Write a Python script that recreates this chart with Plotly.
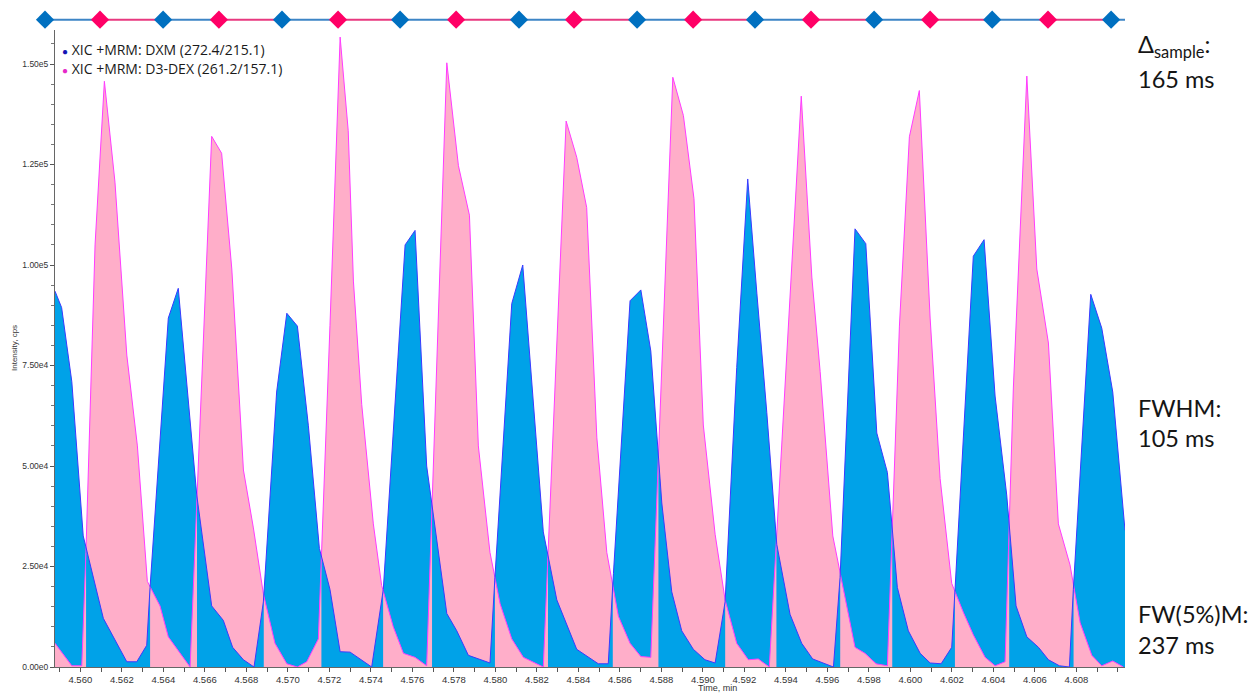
import numpy as np
import plotly.graph_objects as go

# ---------------- data ----------------
dxm_time = [4.55878, 4.55910, 4.55959, 4.56014, 4.56111, 4.56224, 4.56272, 4.56320, 4.56336, 4.56424,
            4.56472, 4.56561, 4.56633, 4.56689, 4.56734, 4.56786, 4.56837, 4.56882, 4.56946, 4.56995,
            4.57046, 4.57099, 4.57152, 4.57203, 4.57252, 4.57300, 4.57404, 4.57460, 4.57565, 4.57613,
            4.57669, 4.57766, 4.57814, 4.57870, 4.57974, 4.57998, 4.58079, 4.58132, 4.58231, 4.58296,
            4.58392, 4.58496, 4.58544, 4.58569, 4.58649, 4.58701, 4.58749, 4.58802, 4.58850, 4.58898,
            4.58954, 4.59010, 4.59059, 4.59107, 4.59163, 4.59216, 4.59260, 4.59308, 4.59356, 4.59420,
            4.59476, 4.59529, 4.59629, 4.59661, 4.59706, 4.59733, 4.59785, 4.59838, 4.59889, 4.59937,
            4.59990, 4.60047, 4.60095, 4.60148, 4.60199, 4.60215, 4.60303, 4.60355, 4.60408, 4.60464,
            4.60509, 4.60561, 4.60617, 4.60665, 4.60718, 4.60766, 4.60785, 4.60869, 4.60922, 4.60975,
            4.61034]
dxm_int = [93500, 89400, 71000, 32600, 12100, 1300, 1300, 5400, 19800, 86800,
           94200, 42800, 15200, 11600, 4900, 1800, 0, 16200, 68400, 88000,
           84800, 60000, 29500, 19300, 3800, 3700, 0, 19300, 105000, 108600,
           50000, 13300, 9000, 2900, 1000, 22300, 90400, 100000, 33600, 16700,
           4400, 800, 800, 23300, 91100, 93800, 78600, 40800, 18700, 9000,
           4400, 1800, 1000, 16200, 74500, 121400, 93000, 63300, 30500, 13100,
           5900, 2000, 0, 22300, 76600, 109000, 105300, 58200, 48400, 19800,
           9000, 3400, 1000, 800, 4900, 19300, 102200, 106300, 67400, 42800,
           15200, 7500, 4900, 1800, 300, 0, 19300, 92700, 84300, 68400,
           34000]

d3_time = [4.55878, 4.55959, 4.56007, 4.56027, 4.56071, 4.56116, 4.56167, 4.56224, 4.56275, 4.56323,
           4.56384, 4.56424, 4.56529, 4.56633, 4.56681, 4.56730, 4.56786, 4.56834, 4.56882, 4.56938,
           4.56995, 4.57046, 4.57091, 4.57147, 4.57203, 4.57252, 4.57291, 4.57316, 4.57356, 4.57412,
           4.57452, 4.57508, 4.57557, 4.57613, 4.57669, 4.57766, 4.57822, 4.57875, 4.57918, 4.57974,
           4.58023, 4.58079, 4.58135, 4.58231, 4.58341, 4.58392, 4.58440, 4.58489, 4.58537, 4.58593,
           4.58649, 4.58701, 4.58749, 4.58855, 4.58906, 4.58957, 4.59002, 4.59059, 4.59107, 4.59163,
           4.59219, 4.59267, 4.59320, 4.59474, 4.59525, 4.59565, 4.59626, 4.59661, 4.59733, 4.59781,
           4.59834, 4.59889, 4.59947, 4.59995, 4.60043, 4.60095, 4.60143, 4.60199, 4.60255, 4.60303,
           4.60360, 4.60408, 4.60456, 4.60496, 4.60561, 4.60609, 4.60665, 4.60713, 4.60769, 4.60818,
           4.60874, 4.60922, 4.60975, 4.61026]
d3_int = [5900, 300, 300, 28500, 105000, 145700, 120600, 77600, 55000, 21300,
          15200, 7500, 0, 132000, 127800, 99000, 49000, 34600, 18200, 5900,
          800, 0, 1300, 7000, 85000, 156700, 133400, 96000, 65300, 35600,
          20300, 10000, 3400, 2400, 300, 150300, 124700, 112400, 55000, 28500,
          15700, 7000, 2400, 0, 135800, 126800, 114300, 57000, 28500, 12600,
          5900, 2600, 2400, 146700, 137200, 116500, 60200, 33000, 16700, 5900,
          1800, 2000, 0, 142000, 97000, 73500, 32600, 23300, 4900, 3400,
          800, 300, 84800, 131900, 143400, 86800, 46900, 20800, 13600, 8000,
          2400, 300, 1300, 69400, 147000, 99000, 80600, 35600, 25400, 11000,
          2900, 300, 1500, 0]

# acquisition (sample) times shown on the top strip, alternating channels
sample_time = [4.55830, 4.56095, 4.56399, 4.56668, 4.56972, 4.57242, 4.57541, 4.57811, 4.58114, 4.58379,
               4.58683, 4.58953, 4.59251, 4.59521, 4.59825, 4.60095, 4.60394, 4.60663, 4.60967]
sample_channel = ["DXM", "D3", "DXM", "D3", "DXM", "D3", "DXM", "D3", "DXM", "D3",
                  "DXM", "D3", "DXM", "D3", "DXM", "D3", "DXM", "D3", "DXM"]

x_tick_vals = [4.560, 4.562, 4.564, 4.566, 4.568, 4.570, 4.572, 4.574, 4.576, 4.578, 4.580, 4.582, 4.584,
               4.586, 4.588, 4.590, 4.592, 4.594, 4.596, 4.598, 4.600, 4.602, 4.604, 4.606, 4.608]
x_tick_text = ["%.3f" % v for v in x_tick_vals]
y_tick_vals = [0, 25000, 50000, 75000, 100000, 125000, 150000]
y_tick_text = ["0.00e0", "2.50e4", "5.00e4", "7.50e4", "1.00e5", "1.25e5", "1.50e5"]

legend_names = ["XIC +MRM: DXM (272.4/215.1)", "XIC +MRM: D3-DEX (261.2/157.1)"]
right_notes = [("Δ<sub>sample</sub>:", "165 ms"), ("FWHM:", "105 ms"), ("FW(5%)M:", "237 ms")]

# ---------------- styling ----------------
BLUE_FILL = "#00A2E8"
PINK_FILL = "#FFAEC9"
BLUE_LINE = "#3a3aff"
PINK_LINE = "#ff3cff"
STRIP_BLUE = "#0070C0"
STRIP_PINK = "#FF0066"
STRIP_BLUE_LINE = "#3d85c6"
STRIP_PINK_LINE = "#e8387f"

X_MAIN_RANGE = [4.55878, 4.61034]
X_STRIP_RANGE = [4.557962, 4.61034]
Y_MAX = 158460

# lower-on-top rendering of the two overlapping filled traces:
# pink is redrawn above blue wherever the pink trace is the lower one
tb = np.array(dxm_time); vb = np.array(dxm_int, float)
tp = np.array(d3_time); vp = np.array(d3_int, float)
grid = np.union1d(tb, tp)
gb = np.interp(grid, tb, vb); gp = np.interp(grid, tp, vp)
diff = gp - gb
cross = []
for i in range(len(grid) - 1):
    if diff[i] * diff[i + 1] < 0:
        f = diff[i] / (diff[i] - diff[i + 1])
        cross.append(grid[i] + f * (grid[i + 1] - grid[i]))
grid = np.union1d(grid, cross)
gb = np.interp(grid, tb, vb); gp = np.interp(grid, tp, vp)
mask = gp <= gb + 1e-6

poly_x, poly_y = [], []
i = 0
n = len(grid)
while i < n:
    if mask[i]:
        j = i
        while j + 1 < n and mask[j + 1]:
            j += 1
        if j > i:
            xs = [float(v) for v in grid[i:j + 1]]
            ys = [float(v) for v in gp[i:j + 1]]
            poly_x += [xs[0]] + xs + [xs[-1], None]
            poly_y += [0.0] + ys + [0.0, None]
        i = j + 1
    else:
        i += 1

fig = go.Figure()
fig.add_trace(go.Scatter(x=d3_time, y=d3_int, mode="lines", fill="tozeroy", fillcolor=PINK_FILL,
                         line=dict(width=0, color=PINK_FILL), hoverinfo="skip", showlegend=False))
fig.add_trace(go.Scatter(x=dxm_time, y=dxm_int, mode="lines", fill="tozeroy", fillcolor=BLUE_FILL,
                         line=dict(width=0, color=BLUE_FILL), hoverinfo="skip", showlegend=False))
fig.add_trace(go.Scatter(x=poly_x, y=poly_y, mode="lines", fill="toself", fillcolor=PINK_FILL,
                         connectgaps=False, line=dict(width=0, color=PINK_FILL),
                         hoverinfo="skip", showlegend=False))
fig.add_trace(go.Scatter(x=d3_time, y=d3_int, mode="lines", line=dict(width=1, color=PINK_LINE),
                         name=legend_names[1], showlegend=False))
fig.add_trace(go.Scatter(x=dxm_time, y=dxm_int, mode="lines", line=dict(width=1, color=BLUE_LINE),
                         name=legend_names[0], showlegend=False))

# top strip: sample sequence
seg_x = {"DXM": [], "D3": []}
for k, t in enumerate(sample_time):
    nxt = sample_time[k + 1] if k + 1 < len(sample_time) else X_STRIP_RANGE[1]
    seg_x[sample_channel[k]] += [t, nxt, None]
for ch, col in (("DXM", STRIP_BLUE_LINE), ("D3", STRIP_PINK_LINE)):
    fig.add_trace(go.Scatter(x=seg_x[ch], y=[0 if v is not None else None for v in seg_x[ch]],
                             mode="lines", line=dict(width=2, color=col), xaxis="x2", yaxis="y2",
                             hoverinfo="skip", showlegend=False, cliponaxis=False))
for ch, col in (("DXM", STRIP_BLUE), ("D3", STRIP_PINK)):
    xs = [t for t, c in zip(sample_time, sample_channel) if c == ch]
    fig.add_trace(go.Scatter(x=xs, y=[0] * len(xs), mode="markers", xaxis="x2", yaxis="y2",
                             marker=dict(symbol="diamond", size=14, color=col, line=dict(width=0)),
                             hoverinfo="skip", showlegend=False, cliponaxis=False))

L, R, T, B = 38, 127, 10, 26
W, H = 1252, 693
pw = W - L - R
ph = H - T - B
x_dom0 = (55 - L) / pw
y_dom1 = (667 - 30) / ph


def px2paper_x(px):
    return (px - L) / pw


def px2paper_y(py):
    return (H - B - py) / ph


annotations = []
# legend
legend_cols = ["#1414b4", "#e628c8"]
for k, (nm, col) in enumerate(zip(legend_names, legend_cols)):
    annotations.append(dict(xref="paper", yref="paper", x=px2paper_x(60), y=px2paper_y(49 + 19 * k),
                            xanchor="left", yanchor="middle", showarrow=False,
                            text="<span style='color:%s;font-size:10px'>●</span> %s" % (col, nm),
                            font=dict(family="Open Sans", size=14, color="#1a1a1a")))
# right-hand notes
note_y = [(46, 79), (408, 438), (614, 645)]
for (l1, l2), (y1, y2) in zip(right_notes, note_y):
    for txt, yy in ((l1, y1), (l2, y2)):
        annotations.append(dict(xref="paper", yref="paper", x=px2paper_x(1136), y=px2paper_y(yy),
                                xanchor="left", yanchor="middle", showarrow=False, text=txt,
                                font=dict(family="Lato", size=23.5, color="#151515")))
# axis titles
annotations.append(dict(xref="paper", yref="paper", x=px2paper_x(717), y=px2paper_y(688),
                        xanchor="center", yanchor="middle", showarrow=False, text="Time, min",
                        font=dict(family="Liberation Sans", size=9, color="#333")))
annotations.append(dict(xref="paper", yref="paper", x=px2paper_x(14), y=px2paper_y(348),
                        xanchor="center", yanchor="middle", showarrow=False, text="Intensity, cps",
                        textangle=-90, font=dict(family="Liberation Sans", size=8, color="#333")))

fig.update_layout(
    width=W, height=H,
    margin=dict(l=L, r=R, t=T, b=B, autoexpand=False),
    paper_bgcolor="white", plot_bgcolor="white",
    showlegend=False,
    xaxis=dict(domain=[x_dom0, 1], range=X_MAIN_RANGE, anchor="y", automargin=False,
               tickvals=x_tick_vals, ticktext=x_tick_text, ticks="outside", ticklen=4,
               tickcolor="#555", showline=True, linecolor="#666", linewidth=1,
               showgrid=False, zeroline=False,
               minor=dict(dtick=0.001, tick0=4.559, ticks="outside", ticklen=4, tickcolor="#555", showgrid=False),
               tickfont=dict(family="Liberation Sans", size=9.5, color="#333")),
    yaxis=dict(domain=[0, y_dom1], range=[0, Y_MAX], anchor="x", automargin=False,
               tickvals=y_tick_vals, ticktext=y_tick_text, ticks="outside", ticklen=4,
               tickcolor="#555", showline=True, linecolor="#666", linewidth=1,
               showgrid=False, zeroline=False,
               minor=dict(dtick=5000, ticks="outside", ticklen=3, tickcolor="#777", showgrid=False),
               tickfont=dict(family="Liberation Sans", size=8.5, color="#333")),
    xaxis2=dict(domain=[0, 1], range=X_STRIP_RANGE, anchor="y2", visible=False, automargin=False),
    yaxis2=dict(domain=[y_dom1 + 0.001, 1], range=[-1, 1], anchor="x2", visible=False, automargin=False),
    annotations=annotations,
)

fig.write_html("out.html", config={"displayModeBar": False},
               post_script="document.body.style.margin='0px';document.body.style.padding='0px';")
